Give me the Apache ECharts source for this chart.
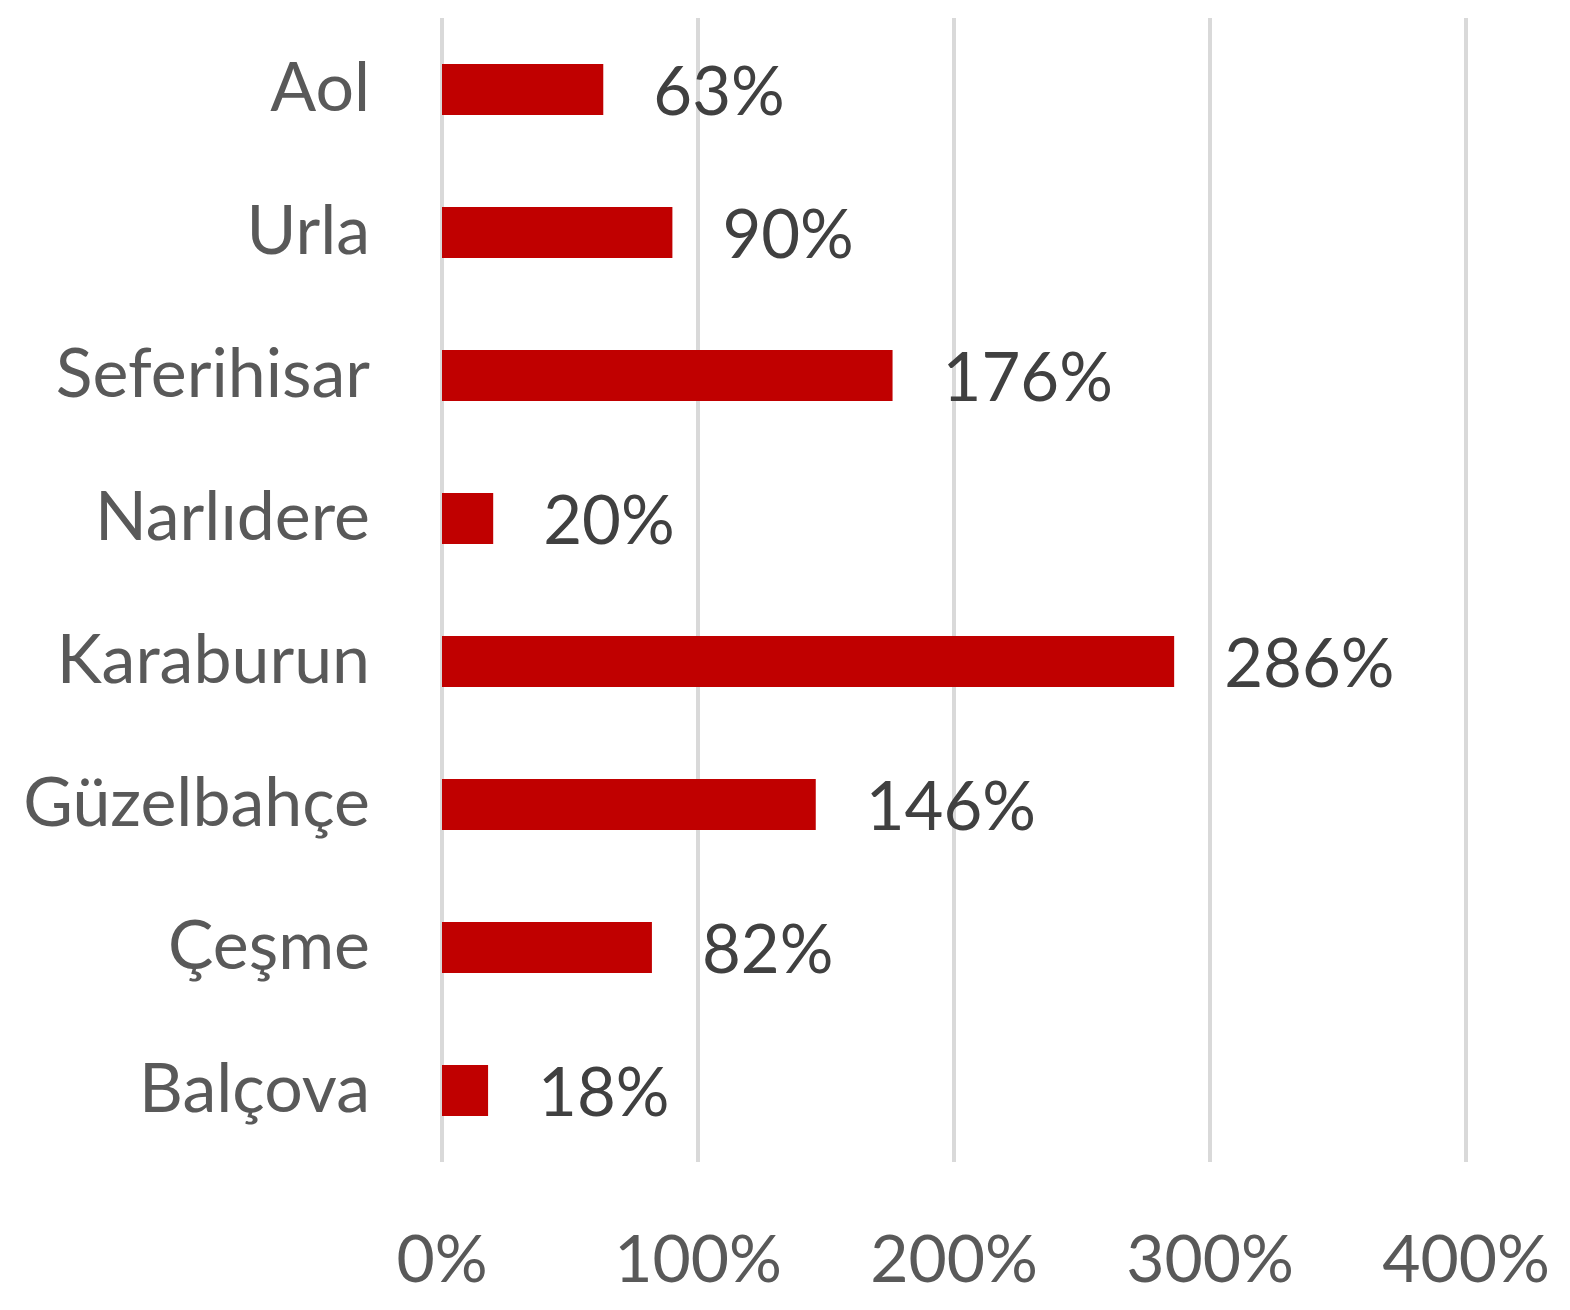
<!DOCTYPE html>
<html>
<head>
<meta charset="utf-8">
<script src="https://cdn.jsdelivr.net/npm/echarts@6/dist/echarts.min.js"></script>
<style>
  html, body { margin: 0; padding: 0; background: #fff; }
  #chart { width: 1570px; height: 1310px; }
</style>
</head>
<body>
<div id="chart"></div>
<script>
// categories listed bottom to top (yAxis category order)
const districts = ['Balçova', 'Çeşme', 'Güzelbahçe', 'Karaburun', 'Narlıdere', 'Seferihisar', 'Urla', 'Aol'];
const changePct = [18, 82, 146, 286, 20, 176, 90, 63];
const xTicks = [0, 100, 200, 300, 400];

const chart = echarts.init(document.getElementById('chart'));
chart.setOption({
    animation: false,
    textStyle: {fontFamily: 'Lato'},
    grid: {left: 442, right: 104, top: 18, bottom: 148},
    xAxis: {
        type: 'value',
        min: xTicks[0],
        max: xTicks[xTicks.length - 1],
        interval: 100,
        axisLine: {show: false},
        axisTick: {show: false},
        splitLine: {lineStyle: {color: '#d9d9d9', width: 4}},
        axisLabel: {
            margin: 66,
            fontSize: 66,
            color: '#595959',
            formatter: v => v + '%'
        }
    },
    yAxis: {
        type: 'category',
        data: districts,
        axisLine: {show: false},
        axisTick: {show: false},
        axisLabel: {margin: 72, fontSize: 68, color: '#595959'}
    },
    series: [{
        type: 'bar',
        data: changePct,
        barWidth: 51,
        itemStyle: {color: '#c00000'},
        label: {
            show: true,
            position: 'right',
            distance: 50,
            offset: [0, 4],
            fontSize: 67,
            color: '#404040',
            formatter: p => p.value + '%'
        }
    }]
});
</script>
</body>
</html>
